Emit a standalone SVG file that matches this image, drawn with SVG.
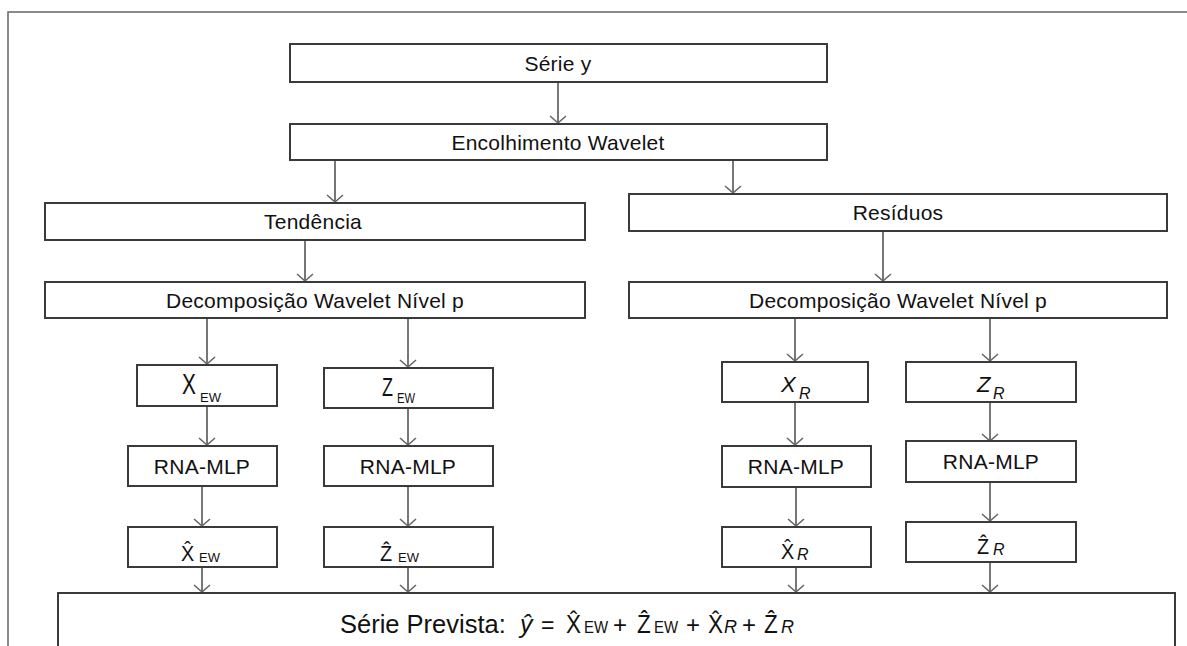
<svg xmlns="http://www.w3.org/2000/svg" width="1187" height="646" viewBox="0 0 1187 646">
<style>
.box{fill:#fff;stroke:#3a3a3a;stroke-width:2}
.lbl{font-family:"Liberation Sans",Arial,sans-serif;font-size:21px;letter-spacing:0.25px;fill:#111;text-anchor:middle;dominant-baseline:central}
.m{font-family:"Liberation Sans",Arial,sans-serif;fill:#111}
.it{font-style:italic}
.con{stroke:#555;stroke-width:1.6;fill:none;marker-end:url(#ah)}
.frame{stroke:#666;stroke-width:1.5;fill:none}
</style>
<defs>
<marker id="ah" markerUnits="userSpaceOnUse" markerWidth="20" markerHeight="20" viewBox="-10 -10 20 20" refX="0" refY="0" orient="auto">
<path d="M-7,-8 L0,0 L-7,8" fill="none" stroke="#666" stroke-width="1.6"/>
</marker>
</defs>
<path class="frame" d="M8,646 L8,12 L1187,12"/>
<g id="connectors">
<line class="con" x1="558" y1="82" x2="558" y2="123"/>
<line class="con" x1="335" y1="160" x2="335" y2="202"/>
<line class="con" x1="733" y1="160" x2="733" y2="193"/>
<line class="con" x1="305" y1="240" x2="305" y2="281"/>
<line class="con" x1="883" y1="231" x2="883" y2="281"/>
<line class="con" x1="207" y1="318" x2="207" y2="364"/>
<line class="con" x1="408" y1="318" x2="408" y2="367"/>
<line class="con" x1="795" y1="318" x2="795" y2="361"/>
<line class="con" x1="990" y1="318" x2="990" y2="361"/>
<line class="con" x1="207" y1="406" x2="207" y2="445"/>
<line class="con" x1="408" y1="408" x2="408" y2="445"/>
<line class="con" x1="795" y1="402" x2="795" y2="445"/>
<line class="con" x1="990" y1="402" x2="990" y2="441"/>
<line class="con" x1="202" y1="486" x2="202" y2="526"/>
<line class="con" x1="408" y1="486" x2="408" y2="526"/>
<line class="con" x1="796" y1="487" x2="796" y2="526"/>
<line class="con" x1="990" y1="482" x2="990" y2="521"/>
<line class="con" x1="202" y1="567" x2="202" y2="592"/>
<line class="con" x1="408" y1="567" x2="408" y2="592"/>
<line class="con" x1="796" y1="567" x2="796" y2="592"/>
<line class="con" x1="990" y1="562" x2="990" y2="592"/>
</g>
<g id="serie-y"><rect class="box" x="290" y="44" width="537" height="38"/><text class="lbl" x="558" y="63">Série y</text></g>
<g id="encolhimento"><rect class="box" x="290" y="124" width="537" height="36"/><text class="lbl" x="558" y="142">Encolhimento Wavelet</text></g>
<g id="tendencia"><rect class="box" x="45" y="203" width="540" height="37"/><text class="lbl" x="313" y="221.5">Tendência</text></g>
<g id="residuos"><rect class="box" x="629" y="194" width="538" height="37"/><text class="lbl" x="898" y="212.5">Resíduos</text></g>
<g id="decomp-left"><rect class="box" x="45" y="282" width="540" height="36"/><text class="lbl" x="315" y="300">Decomposição Wavelet Nível p</text></g>
<g id="decomp-right"><rect class="box" x="629" y="282" width="538" height="36"/><text class="lbl" x="898" y="300">Decomposição Wavelet Nível p</text></g>
<g id="x-ew"><rect class="box" x="137" y="365" width="140" height="41"/>
<text class="m" font-size="29" transform="translate(182,394) scale(0.72,1)">X</text>
<text class="m" font-size="13" x="200" y="402">EW</text></g>
<g id="z-ew"><rect class="box" x="324" y="368" width="169" height="40"/>
<text class="m" font-size="26.5" transform="translate(382,396) scale(0.68,1)">Z</text>
<text class="m" font-size="14" transform="translate(397,403) scale(0.8,1)">EW</text></g>
<g id="rna-1"><rect class="box" x="128" y="446" width="149" height="40"/><text class="lbl" x="202" y="466">RNA-MLP</text></g>
<g id="rna-2"><rect class="box" x="324" y="446" width="169" height="40"/><text class="lbl" x="408" y="466">RNA-MLP</text></g>
<g id="xhat-ew"><rect class="box" x="128" y="527" width="149" height="40"/>
<text class="m" font-size="22" transform="translate(181,561) scale(0.9,1)">X&#x302;</text>
<text class="m" font-size="13" x="199" y="562">EW</text></g>
<g id="zhat-ew"><rect class="box" x="324" y="527" width="169" height="40"/>
<text class="m" font-size="22" transform="translate(380,561) scale(0.9,1)">Z&#x302;</text>
<text class="m" font-size="13" x="398" y="562">EW</text></g>
<g id="x-r"><rect class="box" x="722" y="362" width="146" height="40"/>
<text class="m it" font-size="22" x="781" y="392">X</text>
<text class="m it" font-size="16" x="799" y="399">R</text></g>
<g id="z-r"><rect class="box" x="906" y="362" width="170" height="40"/>
<text class="m it" font-size="22" x="977" y="392">Z</text>
<text class="m it" font-size="16" x="993" y="399">R</text></g>
<g id="rna-3"><rect class="box" x="722" y="446" width="149" height="41"/><text class="lbl" x="796" y="466.5">RNA-MLP</text></g>
<g id="rna-4"><rect class="box" x="906" y="441" width="170" height="41"/><text class="lbl" x="991" y="461.5">RNA-MLP</text></g>
<g id="xhat-r"><rect class="box" x="722" y="527" width="149" height="40"/>
<text class="m" font-size="22" transform="translate(781,559) scale(0.9,1)">X&#x302;</text>
<text class="m it" font-size="16" x="797" y="560">R</text></g>
<g id="zhat-r"><rect class="box" x="906" y="522" width="170" height="40"/>
<text class="m" font-size="22" transform="translate(977,554) scale(0.9,1)">Z&#x302;</text>
<text class="m it" font-size="16" x="993" y="555">R</text></g>
<g id="serie-prevista"><rect class="box" x="58" y="593" width="1117" height="80"/>
<text class="m" font-size="25.5" x="340" y="633">Série Prevista:</text>
<text class="m it" font-size="25" x="520" y="633">y&#x302;</text>
<text class="m" font-size="23" x="541" y="633">=</text>
<text class="m" font-size="25" transform="translate(566,633) scale(0.9,1)">X&#x302;</text>
<text class="m" font-size="17" transform="translate(584,633) scale(0.88,1)">EW</text>
<text class="m" font-size="24" x="613" y="633">+</text>
<text class="m" font-size="25" transform="translate(637,633) scale(0.9,1)">Z&#x302;</text>
<text class="m" font-size="17" transform="translate(654,633) scale(0.88,1)">EW</text>
<text class="m" font-size="24" x="686" y="633">+</text>
<text class="m" font-size="25" transform="translate(708,633) scale(0.9,1)">X&#x302;</text>
<text class="m it" font-size="18" x="724" y="633">R</text>
<text class="m" font-size="24" x="742" y="633">+</text>
<text class="m" font-size="25" transform="translate(764,633) scale(0.9,1)">Z&#x302;</text>
<text class="m it" font-size="18" x="781" y="633">R</text>
</g>
</svg>
